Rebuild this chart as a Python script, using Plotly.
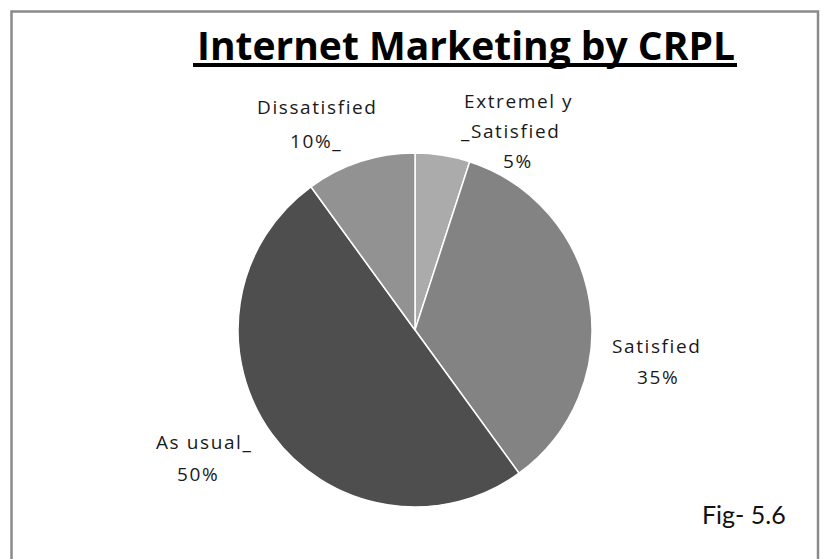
import plotly.graph_objects as go

W, H = 823, 559

# Data
categories = ["Extremely Satisfied", "Satisfied", "As usual", "Dissatisfied"]
values = [5, 35, 50, 10]
colors = ["#ababab", "#838383", "#4e4e4e", "#929292"]
label_lines = [
    ["Extremel y", "_Satisfied", "5%"],
    ["Satisfied", "35%"],
    ["As usual_", "50%"],
    ["Dissatisfied", "10%_"],
]
title_text = "Internet Marketing by CRPL"
fig_text = "Fig- 5.6"

# layout helpers (pixel -> paper)
def px(x):
    return x / W

def py(y):
    return 1 - y / H

cx, cy, r = 415, 330, 177

fig = go.Figure(
    go.Pie(
        labels=categories,
        values=values,
        sort=False,
        direction="clockwise",
        rotation=0,
        marker=dict(colors=colors, line=dict(color="white", width=1.5)),
        textinfo="none",
        hoverinfo="label+percent",
        showlegend=False,
        domain=dict(x=[px(cx - r), px(cx + r)], y=[py(cy + r), py(cy - r)]),
    )
)

# label line positions (pixel centres) for each slice
label_pos = [
    [(518, 101), (510, 131), (518, 161)],
    [(656, 346), (658, 377)],
    [(204, 442), (198, 474)],
    [(317, 107), (316, 141)],
]

annotations = []
for lines, poss in zip(label_lines, label_pos):
    for t, (x, y) in zip(lines, poss):
        annotations.append(dict(
            text='<span style="letter-spacing:1.6px">' + t + '</span>',
            x=px(x), y=py(y), xref="paper", yref="paper",
            xanchor="center", yanchor="middle", showarrow=False,
            font=dict(family="Open Sans", size=19, color="#1a1a1a"),
        ))

annotations.append(dict(
    text="<b>" + title_text + "</b>", x=px(466), y=py(45), xref="paper", yref="paper",
    xanchor="center", yanchor="middle", showarrow=False,
    font=dict(family="Open Sans", size=39, color="#000000"),
))
annotations.append(dict(
    text=fig_text, x=px(744), y=py(514), xref="paper", yref="paper",
    xanchor="center", yanchor="middle", showarrow=False,
    font=dict(family="Lato", size=25, color="#111111"),
))

shapes = [
    # title underline
    dict(type="line", xref="paper", yref="paper", x0=px(193), x1=px(737),
         y0=py(65), y1=py(65), line=dict(color="black", width=4)),
    # chart border
    dict(type="rect", xref="paper", yref="paper", x0=px(11.5), x1=px(818),
         y0=py(575), y1=py(11.5), line=dict(color="#8a8a8a", width=2.5)),
]

fig.update_layout(
    width=W, height=H,
    margin=dict(l=0, r=0, t=0, b=0),
    paper_bgcolor="white",
    plot_bgcolor="white",
    annotations=annotations,
    shapes=shapes,
)

fig.write_html("out.html")
